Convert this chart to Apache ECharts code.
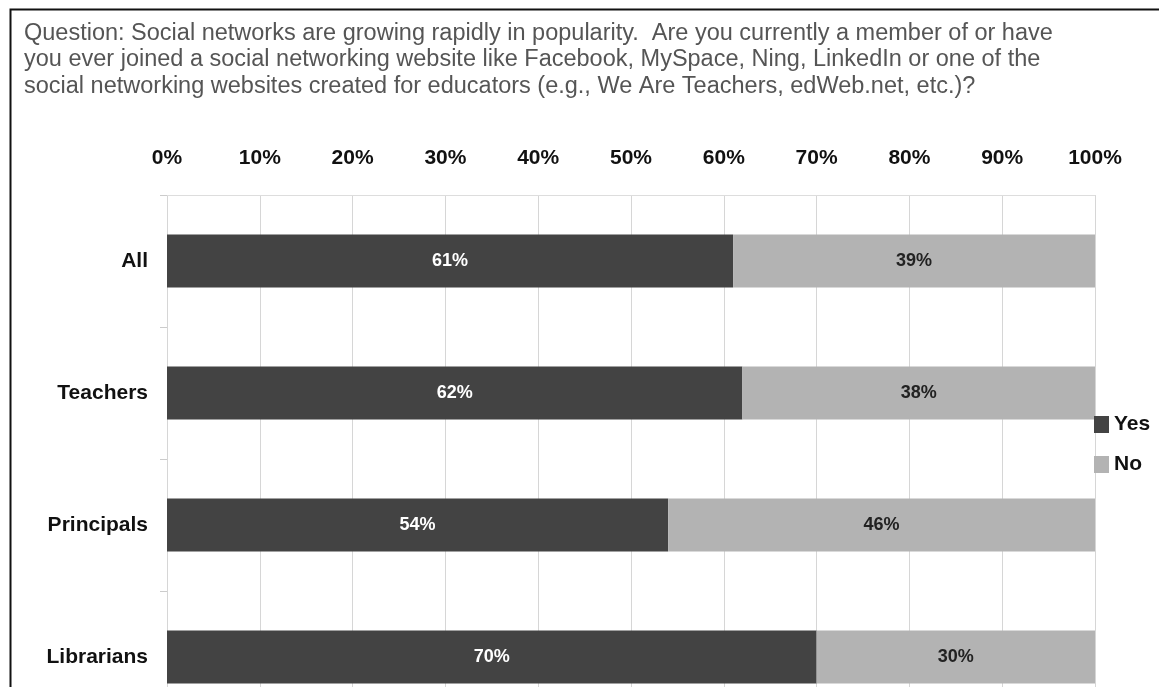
<!DOCTYPE html>
<html>
<head>
<meta charset="utf-8">
<script src="https://cdn.jsdelivr.net/npm/echarts@6/dist/echarts.min.js"></script>
<style>
  html, body { margin: 0; padding: 0; background: #fff; overflow: hidden; }
  /* plot runs past the bottom edge of the window, like the cropped original */
  #chart { width: 1159px; height: 760px; }
</style>
</head>
<body>
<div id="chart"></div>
<script>
// survey: member of a social network?
const groups = ['All', 'Teachers', 'Principals', 'Librarians'];
const yesPct = [61, 62, 54, 70];
const noPct = [39, 38, 46, 30];
const pctTicks = ['0%', '10%', '20%', '30%', '40%', '50%', '60%', '70%', '80%', '90%', '100%'];

const FONT = '"Liberation Sans", Arial, Helvetica, sans-serif';
const question = 'Question: Social networks are growing rapidly in popularity.  Are you currently a member of or have\n' +
    'you ever joined a social networking website like Facebook, MySpace, Ning, LinkedIn or one of the\n' +
    'social networking websites created for educators (e.g., We Are Teachers, edWeb.net, etc.)?';

const chart = echarts.init(document.getElementById('chart'));
chart.setOption({
    backgroundColor: '#fff',
    animation: false,
    textStyle: { fontFamily: FONT },
    title: {
        text: question,
        left: 24, top: 20, padding: 0,
        textStyle: { fontFamily: FONT, fontSize: 23.5, fontWeight: 'normal', color: '#555', lineHeight: 26.5 }
    },
    graphic: [{
        type: 'rect', left: 8, top: 7,
        shape: { width: 1200, height: 800 },
        style: { fill: 'none', stroke: '#111', lineWidth: 2 },
        silent: true, z: 10
    }],
    legend: {
        orient: 'vertical', left: 1089, top: 409,
        itemWidth: 15, itemHeight: 17, itemGap: 19,
        icon: 'rect',
        data: ['Yes', 'No'],
        textStyle: { fontFamily: FONT, fontSize: 21, fontWeight: 'bold', color: '#111' }
    },
    grid: { left: 167, top: 195, width: 928, height: 528, containLabel: false },
    xAxis: {
        type: 'value', position: 'top', min: 0, max: 100, interval: 10,
        axisLine: { show: true, lineStyle: { color: '#ddd' } },
        axisTick: { show: false },
        splitLine: { lineStyle: { color: '#d6d6d6' } },
        axisLabel: {
            margin: 26, fontSize: 21, fontWeight: 'bold', color: '#111',
            formatter: v => pctTicks[Math.round(v / 10)]
        }
    },
    yAxis: {
        type: 'category', inverse: true, data: groups,
        axisLine: { show: false },
        axisTick: { show: true, length: 7, lineStyle: { color: '#ccc' } },
        axisLabel: { margin: 19, fontSize: 21, fontWeight: 'bold', color: '#111' }
    },
    series: [
        {
            name: 'Yes', type: 'bar', stack: 'all', data: yesPct,
            barCategoryGap: '60%',
            itemStyle: { color: '#434343' },
            label: { show: true, position: 'inside', formatter: '{c}%', color: '#fff', fontSize: 18, fontWeight: 'bold' }
        },
        {
            name: 'No', type: 'bar', stack: 'all', data: noPct,
            barCategoryGap: '60%',
            itemStyle: { color: '#b3b3b3' },
            label: { show: true, position: 'inside', formatter: '{c}%', color: '#222', fontSize: 18, fontWeight: 'bold' }
        }
    ]
});
</script>
</body>
</html>
